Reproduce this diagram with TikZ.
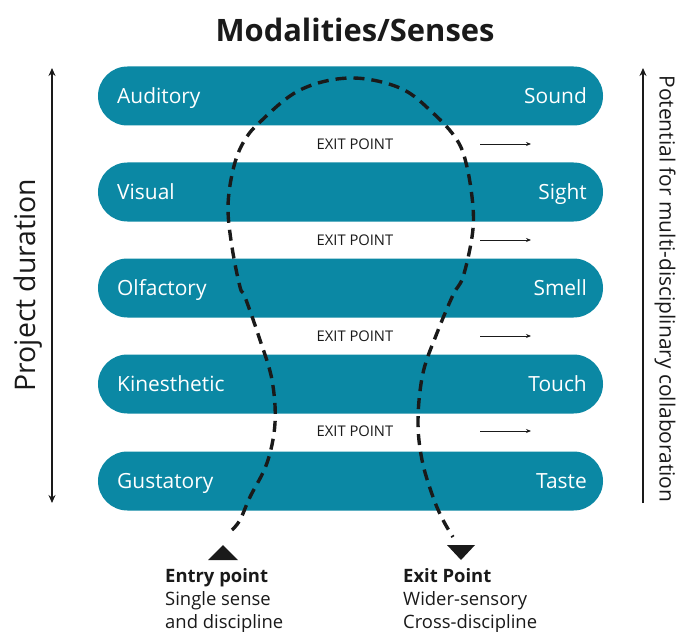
\documentclass[tikz,border=0pt]{standalone}
\usepackage{fontspec}
\setmainfont{Open Sans}
\usetikzlibrary{arrows.meta}
\definecolor{teal1}{HTML}{0B88A4}
\definecolor{ink}{HTML}{1A1A1A}
\begin{document}
\begin{tikzpicture}[x=1bp,y=-1bp,
  bar/.style={fill=teal1, rounded corners=29.5bp, minimum width=505bp, minimum height=59bp, inner sep=0pt},
  barlbl/.style={text=white, font=\fontsize{21}{24}\selectfont, inner sep=0pt},
  exitlbl/.style={text=ink, font=\fontsize{14.8}{17}\selectfont, inner sep=0pt, anchor=base},
  smallarrow/.style={draw=ink, line width=0.8bp, -{Stealth[length=5bp,width=4bp]}},
  path/.style={draw=ink, line width=3.4bp, dash pattern=on 11bp off 7bp},
  tri/.style={fill=ink},
  foot/.style={text=ink, font=\fontsize{18.5}{23}\selectfont, anchor=north west, inner sep=0pt, align=left}]
\useasboundingbox (0,0) rectangle (680,632);
\fill[white] (0,0) rectangle (680,632);
% title
\node[font=\bfseries\fontsize{31}{35}\selectfont, text=ink] (title) at (355,30) {Modalities/Senses};
% bars
\foreach \n/\y/\l/\r in {1/96/Auditory/Sound, 2/192/Visual/Sight, 3/288/Olfactory/Smell, 4/384/Kinesthetic/Touch, 5/481/Gustatory/Taste}{
  \node[bar] (b\n) at (350.5,\y) {};
  \node[barlbl, anchor=base west] (l\n) at (117,\y+7.5) {\l};
  \node[barlbl, anchor=base east] (r\n) at (587,\y+7.5) {\r};
}
% exit points
\foreach \n/\y in {1/144, 2/240, 3/336, 4/431}{
  \node[exitlbl] (e\n) at (355,\y+5.3) {EXIT POINT};
  \coordinate (as\n) at (480,\y);
  \coordinate (ae\n) at (531,\y);
  \draw[smallarrow] (as\n) -- (ae\n);
}
% dashed journey
\coordinate (entry) at (232,530);
\coordinate (exit) at (453,537);
\draw[path] plot[smooth, tension=0.6] coordinates {
 (entry) (240,520) (250,497) (267,463) (275,423) (272,380) (260,340) (245,297) (240,287) (232,247) (228,207) (233,170) (243,143) (260,122) (300,90) (350,78) (400,88) (433,113) (457,140) (467,167) (473,207) (472,237) (463,277) (453,295) (437,333) (423,373) (418,420) (422,460) (433,497) (443,520) (exit)};
% triangles
\fill[tri] (208,560) -- (238,560) -- (223,545) -- cycle;
\fill[tri] (447,545) -- (475,545) -- (461,560) -- cycle;
% foot labels
\node[foot] (entrytxt) at (165,568) {\textbf{Entry point}\\Single sense\\and discipline};
\node[foot] (exittxt) at (403,568) {\textbf{Exit Point}\\Wider-sensory\\Cross-discipline};
% left axis
\coordinate (la) at (52,68);
\coordinate (lb) at (52,503);
\draw[ink, line width=1.4bp, {Stealth[length=8bp,width=7bp]}-{Stealth[length=8bp,width=7bp]}] (lb) -- (la);
\node[rotate=90, text=ink, font=\fontsize{28.5}{30}\selectfont] (pd) at (28,285) {Project duration};
% right axis
\coordinate (ra) at (643,68);
\coordinate (rb) at (643,503);
\draw[ink, line width=1.4bp, -{Stealth[length=8bp,width=7bp]}] (rb) -- (ra);
\node[rotate=-90, text=ink, font=\fontsize{21}{24}\selectfont] (pc) at (665,289) {Potential for multi-disciplinary collaboration};
\end{tikzpicture}
\end{document}
